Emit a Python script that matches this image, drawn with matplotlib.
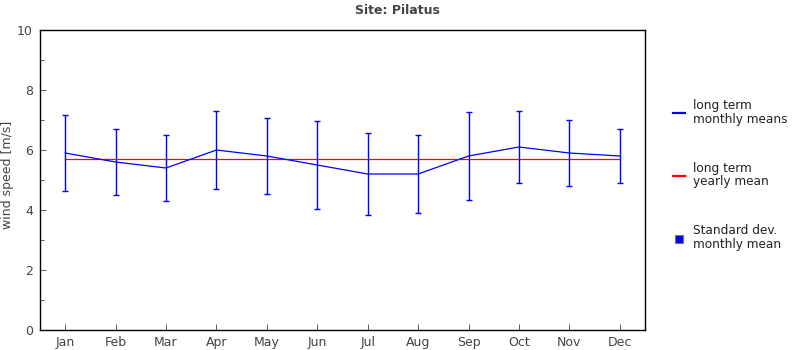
import matplotlib
matplotlib.use("Agg")
import matplotlib.pyplot as plt
from matplotlib.lines import Line2D
from matplotlib.ticker import MultipleLocator
import numpy as np

months = ["Jan", "Feb", "Mar", "Apr", "May", "Jun",
          "Jul", "Aug", "Sep", "Oct", "Nov", "Dec"]
monthly_mean = [5.9, 5.6, 5.4, 6.0, 5.8, 5.5, 5.2, 5.2, 5.8, 6.1, 5.9, 5.8]
monthly_std = [1.27, 1.1, 1.1, 1.3, 1.27, 1.47, 1.37, 1.3, 1.47, 1.2, 1.1, 0.9]
yearly_mean = 5.7

site = "Pilatus"

plt.rcParams['font.family'] = ['DejaVu Sans']
plt.rcParams['font.size'] = 9

fig = plt.figure(figsize=(7.95, 3.5), dpi=100)
ax = fig.add_axes([0.0503, 0.0571, 0.761, 0.8572])

x = np.arange(len(months))
ax.errorbar(x, monthly_mean, yerr=monthly_std, color='#0000ff', lw=0.9,
            elinewidth=1.0, capsize=2.3, capthick=1.0, zorder=3)
ax.plot([x[0], x[-1]], [yearly_mean, yearly_mean], color='#ff0000', lw=0.9, zorder=2)

ax.set_xlim(-0.5, 11.5)
ax.set_ylim(0, 10)
ax.set_xticks(x)
ax.set_xticklabels(months)
ax.yaxis.set_major_locator(MultipleLocator(2))
ax.yaxis.set_minor_locator(MultipleLocator(1))
ax.tick_params(axis='both', which='both', direction='in', colors='#444444',
               labelcolor='#444444', labelsize=9)
ax.tick_params(axis='y', which='major', length=4, width=0.6, pad=5)
ax.tick_params(axis='y', which='minor', length=3, width=0.6)
ax.tick_params(axis='x', which='major', length=4, width=0.6, pad=4)
for s in ax.spines.values():
    s.set_linewidth(1.0)
    s.set_color('black')

fig.text(8 / 795, 0.5, "wind speed [m/s]", rotation=90, ha='center', va='center',
         color='#444444', fontsize=9)
fig.text(0.5, 1 - 11 / 350, "Site: " + site, ha='center', va='center',
         fontsize=9, fontweight='bold', color='#444444')

handles = [
    Line2D([], [], color='#0000ff', lw=1.6),
    Line2D([], [], color='#ff0000', lw=1.6),
    Line2D([], [], color='#0000ff', marker='s', markersize=6, linestyle='none',
           markeredgecolor='#777777', markeredgewidth=0.8),
]
labels = ["long term\nmonthly means", "long term\nyearly mean", "Standard dev.\nmonthly mean"]
leg = fig.legend(handles, labels, loc='center left', bbox_to_anchor=(673 / 795, 1 - 175 / 350),
                 frameon=False, fontsize=8.7, handlelength=1.0, handletextpad=0.65,
                 labelspacing=3.0, borderpad=0, borderaxespad=0, labelcolor='#222222')
for t in leg.get_texts():
    t.set_linespacing(1.05)

fig.savefig("out.png", dpi=100)
